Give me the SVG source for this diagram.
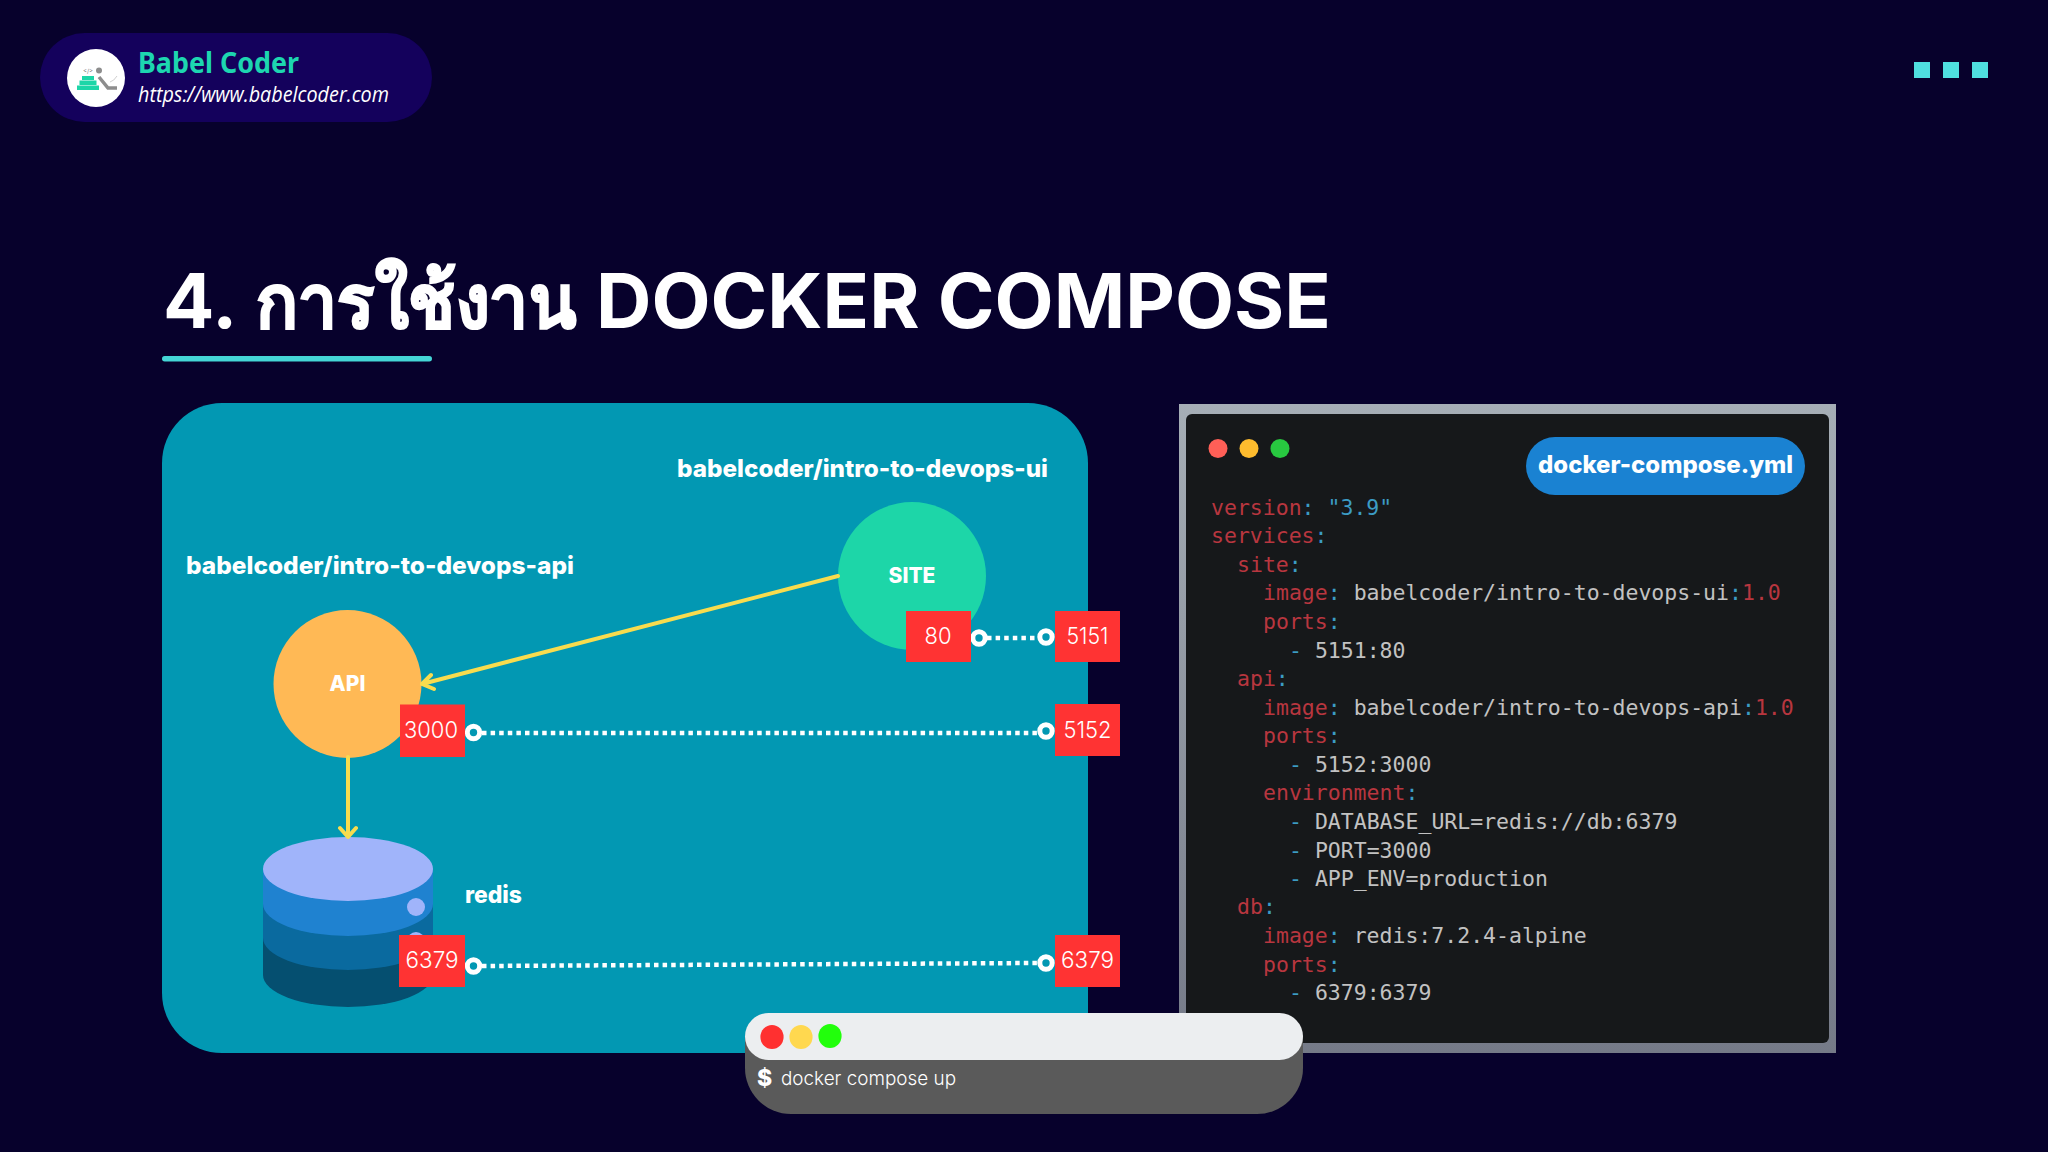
<svg xmlns="http://www.w3.org/2000/svg" width="2048" height="1152" viewBox="0 0 2048 1152">
<style>
.lbl{font-family:Inter,"Liberation Sans",sans-serif;font-weight:800;fill:#fff}
.port{font-family:Inter,"Liberation Sans",sans-serif;font-weight:300;font-size:23px;fill:#fff;text-anchor:middle}
.box{fill:#ff3333}
.ring{fill:none;stroke:#fff;stroke-width:5}
.dots{stroke:#fff;stroke-width:4.5;stroke-dasharray:4.5 4.1;fill:none}
.arrow{stroke:#f8dc4e;stroke-width:4;fill:none;stroke-linecap:round;stroke-linejoin:round}
.code{font-family:"DejaVu Sans Mono","Liberation Mono",monospace;font-size:21.5px;fill:#c2c2c2;white-space:pre}
.k{fill:#b8363f}.p{fill:#3c9cc4}
</style>
<defs>
<linearGradient id="frame" x1="0" y1="0" x2="0" y2="1"><stop offset="0" stop-color="#a6aeb6"/><stop offset="1" stop-color="#757a88"/></linearGradient>
</defs>
<rect width="2048" height="1152" fill="#07012c"/>
<g id="brand">
<rect x="40" y="33" width="392" height="89" rx="44.5" fill="#14015c"/>
<circle cx="96" cy="78" r="29" fill="#fff"/>
<g id="logo">
<rect x="77" y="85.500" width="22" height="4.500" fill="#1dd6a8"/><rect x="79.500" y="80.500" width="17" height="4.500" fill="#1dd6a8"/><rect x="82" y="76" width="12" height="4" fill="#1dd6a8"/>
<circle cx="99" cy="70.500" r="3" fill="#8d8d8d"/>
<path d="M99 77 L108 88 L117 88" stroke="#8d8d8d" stroke-width="3.500" fill="none"/>
<path d="M110 82 Q114 81 117 76" stroke="#cfcfcf" stroke-width="1" fill="none"/>
<text x="88" y="73" font-family="Inter,sans-serif" font-size="6" fill="#777" text-anchor="middle">&lt;/&gt;</text>
</g>
<text x="138" y="73" font-family="'Noto Sans',sans-serif" font-weight="700" font-size="28" fill="#1dd6b0" textLength="161" lengthAdjust="spacingAndGlyphs">Babel Coder</text>
<text x="138" y="102" font-family="'Open Sans',sans-serif" font-style="italic" font-size="21" fill="#fff" textLength="251" lengthAdjust="spacingAndGlyphs">https://www.babelcoder.com</text>
</g>
<g id="squares" fill="#4fdfdf">
<rect x="1914" y="62" width="16" height="16"/><rect x="1943" y="62" width="16" height="16"/><rect x="1972" y="62" width="16" height="16"/>
</g>
<g id="title">
<text y="328" font-family="Inter,'Noto Sans',sans-serif" font-weight="700" font-size="76" fill="#fff"><tspan x="163" textLength="72" lengthAdjust="spacingAndGlyphs">4.</tspan> <tspan x="256" textLength="320" lengthAdjust="spacingAndGlyphs" font-weight="800" stroke="#fff" stroke-width="1.800">การใช้งาน</tspan> <tspan x="596" textLength="735" lengthAdjust="spacingAndGlyphs">DOCKER COMPOSE</tspan></text>
<rect x="162" y="356" width="270" height="5.500" rx="2.700" fill="#45d6d6"/>
</g>
<g id="panel"><path d="M222 403H1028a60 60 0 0 1 60 60V1053H222a60 60 0 0 1-60-60V463a60 60 0 0 1 60-60Z" fill="#0298b3"/></g>
<g id="site-label"><text class="lbl" x="677" y="477" font-size="24" textLength="371" lengthAdjust="spacingAndGlyphs">babelcoder/intro-to-devops-ui</text></g>
<g id="api-label"><text class="lbl" x="186" y="573.500" font-size="24" textLength="388" lengthAdjust="spacingAndGlyphs">babelcoder/intro-to-devops-api</text></g>
<g id="redis-db">
<path d="M263 869V975A85 32 0 0 0 433 975V869Z" fill="#054f70"/>
<path d="M263 869V938A85 32 0 0 0 433 938V869Z" fill="#0a6a9f"/>
<path d="M263 869V904A85 32 0 0 0 433 904V869Z" fill="#1f82d0"/>
<ellipse cx="348" cy="869" rx="85" ry="32" fill="#a0b4fa"/>
<circle cx="416" cy="907" r="9" fill="#a0b4fa"/>
<circle cx="416" cy="941" r="9" fill="#a0b4fa"/>
<text class="lbl" x="465" y="903" font-size="24" textLength="57" lengthAdjust="spacingAndGlyphs">redis</text>
</g>
<g id="site"><circle cx="912" cy="576" r="74" fill="#1dd6a8"/><text class="lbl" x="912" y="583" font-size="21" text-anchor="middle">SITE</text></g>
<g id="api"><circle cx="347.500" cy="684" r="74" fill="#ffb955"/><text class="lbl" x="347.500" y="691" font-size="21" text-anchor="middle">API</text></g>
<g id="connectors">
<path class="arrow" d="M838 576L422 684M431 675L422 684L434 689"/>
<path class="arrow" d="M348 757V837M340 828L348 837L356 828"/>
<path class="dots" d="M987 638H1038"/>
<path class="dots" d="M482 733H1037"/>
<path class="dots" d="M482 966L1037 963"/>
<circle class="ring" cx="979" cy="638" r="6.200"/><circle class="ring" cx="1046" cy="637" r="6.200"/>
<circle class="ring" cx="473.500" cy="732.500" r="6.200"/><circle class="ring" cx="1046" cy="731" r="6.200"/>
<circle class="ring" cx="473.500" cy="966" r="6.200"/><circle class="ring" cx="1046" cy="963" r="6.200"/>
</g>
<g id="port-80"><rect class="box" x="906" y="611" width="65" height="51"/><text class="port" x="938" y="644" textLength="27" lengthAdjust="spacingAndGlyphs">80</text></g>
<g id="port-5151"><rect class="box" x="1055" y="611" width="65" height="51"/><text class="port" x="1087.500" y="644" textLength="42" lengthAdjust="spacingAndGlyphs">5151</text></g>
<g id="port-3000"><rect class="box" x="400" y="704.500" width="65" height="52.500"/><text class="port" x="431" y="737.500" textLength="54" lengthAdjust="spacingAndGlyphs">3000</text></g>
<g id="port-5152"><rect class="box" x="1055" y="704" width="65" height="52"/><text class="port" x="1087.500" y="738" textLength="48" lengthAdjust="spacingAndGlyphs">5152</text></g>
<g id="port-6379-a"><rect class="box" x="399" y="935" width="66" height="52"/><text class="port" x="432" y="968" textLength="53" lengthAdjust="spacingAndGlyphs">6379</text></g>
<g id="port-6379-b"><rect class="box" x="1055" y="935" width="65" height="52"/><text class="port" x="1087.500" y="968" textLength="53" lengthAdjust="spacingAndGlyphs">6379</text></g>
<g id="code-window">
<rect x="1179" y="404" width="657" height="649" fill="url(#frame)"/>
<rect x="1186" y="414" width="643" height="629" rx="6" fill="#16181a"/>
<ellipse cx="1218" cy="448.500" rx="9.500" ry="9.500" fill="#ff5f57"/><ellipse cx="1249" cy="448.500" rx="9.500" ry="9.500" fill="#febc2e"/><ellipse cx="1280" cy="448.500" rx="9.500" ry="9.500" fill="#28c940"/>
<rect x="1526" y="437" width="279" height="58" rx="29" fill="#1a82d2"/>
<text class="lbl" x="1538" y="473" font-size="24" textLength="255" lengthAdjust="spacingAndGlyphs">docker-compose.yml</text>
<g class="code" xml:space="preserve">
<text x="1211" y="515"><tspan class="k">version</tspan><tspan class="p">: "3.9"</tspan></text>
<text x="1211" y="543"><tspan class="k">services</tspan><tspan class="p">:</tspan></text>
<text x="1237" y="572"><tspan class="k">site</tspan><tspan class="p">:</tspan></text>
<text x="1263" y="600"><tspan class="k">image</tspan><tspan class="p">:</tspan> babelcoder/intro-to-devops-ui<tspan class="p">:</tspan><tspan class="k">1.0</tspan></text>
<text x="1263" y="629"><tspan class="k">ports</tspan><tspan class="p">:</tspan></text>
<text x="1289" y="658"><tspan class="p">-</tspan> 5151:80</text>
<text x="1237" y="686"><tspan class="k">api</tspan><tspan class="p">:</tspan></text>
<text x="1263" y="714.500"><tspan class="k">image</tspan><tspan class="p">:</tspan> babelcoder/intro-to-devops-api<tspan class="p">:</tspan><tspan class="k">1.0</tspan></text>
<text x="1263" y="743"><tspan class="k">ports</tspan><tspan class="p">:</tspan></text>
<text x="1289" y="771.500"><tspan class="p">-</tspan> 5152:3000</text>
<text x="1263" y="800"><tspan class="k">environment</tspan><tspan class="p">:</tspan></text>
<text x="1289" y="828.500"><tspan class="p">-</tspan> DATABASE_URL=redis://db:6379</text>
<text x="1289" y="857.500"><tspan class="p">-</tspan> PORT=3000</text>
<text x="1289" y="885.500"><tspan class="p">-</tspan> APP_ENV=production</text>
<text x="1237" y="914"><tspan class="k">db</tspan><tspan class="p">:</tspan></text>
<text x="1263" y="943"><tspan class="k">image</tspan><tspan class="p">:</tspan> redis:7.2.4-alpine</text>
<text x="1263" y="971.500"><tspan class="k">ports</tspan><tspan class="p">:</tspan></text>
<text x="1289" y="1000"><tspan class="p">-</tspan> 6379:6379</text>
</g>
</g>
<g id="terminal">
<path d="M745 1035H1303V1068A46 46 0 0 1 1257 1114H791A46 46 0 0 1 745 1068Z" fill="#5a5a5a"/>
<rect x="745" y="1013" width="558" height="47" rx="23.500" fill="#eceef0"/>
<ellipse cx="772" cy="1037" rx="11.600" ry="12" fill="#ff3030"/><ellipse cx="801" cy="1037" rx="11.600" ry="12" fill="#ffd84f"/><ellipse cx="830" cy="1036" rx="11.600" ry="12" fill="#22ff0c"/>
<text class="lbl" x="757" y="1086" font-size="23">$</text>
<text x="781" y="1085" font-family="Inter,sans-serif" font-weight="300" font-size="19" fill="#fff" textLength="175" lengthAdjust="spacingAndGlyphs">docker compose up</text>
</g>
</svg>
